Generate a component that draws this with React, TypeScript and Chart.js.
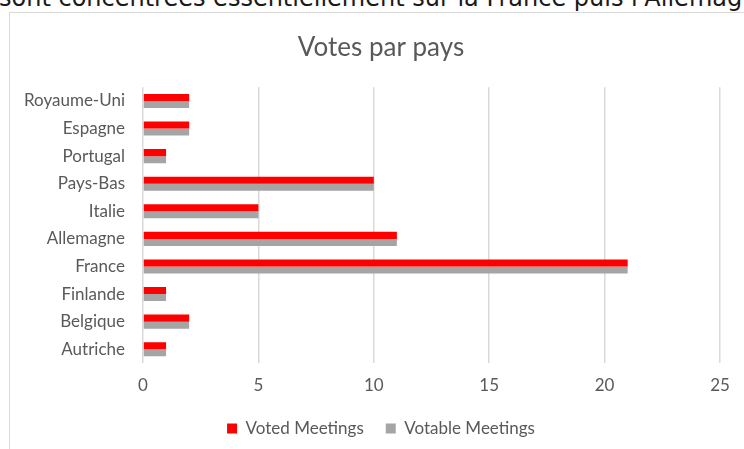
import React, { useEffect, useRef } from "react";
import { Chart, registerables } from "chart.js";

Chart.register(...registerables);

const categories = [
  "Royaume-Uni",
  "Espagne",
  "Portugal",
  "Pays-Bas",
  "Italie",
  "Allemagne",
  "France",
  "Finlande",
  "Belgique",
  "Autriche",
];
const votedMeetings = [2, 2, 1, 10, 5, 11, 21, 1, 2, 1];
const votableMeetings = [2, 2, 1, 10, 5, 11, 21, 1, 2, 1];
const xTicks = [0, 5, 10, 15, 20, 25];

const FONT = "Lato, 'Noto Sans', sans-serif";
const GREY_TEXT = "#595959";

export default function App() {
  const canvasRef = useRef<HTMLCanvasElement | null>(null);

  useEffect(() => {
    if (!canvasRef.current) return;
    const chart = new Chart(canvasRef.current, {
      type: "bar",
      data: {
        labels: categories,
        datasets: [
          {
            label: "Voted Meetings",
            data: votedMeetings,
            backgroundColor: "#ff0000",
            borderWidth: 0,
            categoryPercentage: 0.51,
            barPercentage: 1,
          },
          {
            label: "Votable Meetings",
            data: votableMeetings,
            backgroundColor: "#a5a5a5",
            borderWidth: 0,
            categoryPercentage: 0.51,
            barPercentage: 1,
          },
        ],
      },
      options: {
        indexAxis: "y",
        animation: false,
        responsive: false,
        maintainAspectRatio: false,
        layout: { padding: { left: 0, right: 0, top: 0, bottom: 0 } },
        plugins: {
          title: {
            display: true,
            text: "Votes par pays",
            color: GREY_TEXT,
            font: { family: FONT, size: 26, weight: "normal" },
            padding: { top: 19, bottom: 24 },
          },
          legend: {
            position: "bottom",
            labels: {
              color: GREY_TEXT,
              font: { family: FONT, size: 17 },
              boxWidth: 10,
              boxHeight: 10,
              padding: 22,
            },
          },
          tooltip: { enabled: false },
        },
        scales: {
          x: {
            min: 0,
            max: 25,
            afterBuildTicks: (scale: any) => {
              scale.ticks = xTicks.map((v) => ({ value: v }));
            },
            afterFit: (scale: any) => {
              scale.height = 35;
              scale.paddingRight = 32;
            },
            grid: {
              color: "#d9d9d9",
              lineWidth: 1.5,
              drawTicks: false,
            },
            border: { display: false },
            ticks: {
              color: GREY_TEXT,
              font: { family: FONT, size: 17 },
              padding: 12,
            },
          },
          y: {
            afterFit: (scale: any) => {
              scale.width = 133;
            },
            grid: { display: false, drawTicks: false },
            border: { display: false },
            ticks: {
              color: GREY_TEXT,
              font: { family: FONT, size: 17 },
              padding: 18,
            },
          },
        },
      },
    });
    return () => chart.destroy();
  }, []);

  return (
    <div
      style={{
        position: "absolute",
        left: 0,
        top: 0,
        width: 744,
        height: 449,
        overflow: "hidden",
        background: "#ffffff",
      }}
    >
      <div
        style={{
          position: "absolute",
          left: -1,
          top: -14,
          whiteSpace: "nowrap",
          fontFamily: "'DejaVu Sans', sans-serif",
          fontSize: 24,
          lineHeight: "24px",
          color: "#1a1a1a",
        }}
      >
        sont concentrées essentiellement sur la France puis l'Allemagne
      </div>
      <div
        style={{
          position: "absolute",
          left: 9,
          top: 12,
          width: 760,
          height: 460,
          border: "1px solid #d9d9d9",
          boxSizing: "border-box",
        }}
      />
      <canvas
        ref={canvasRef}
        width={742}
        height={434}
        style={{ position: "absolute", left: 10, top: 13, width: 742, height: 434 }}
      />
    </div>
  );
}
